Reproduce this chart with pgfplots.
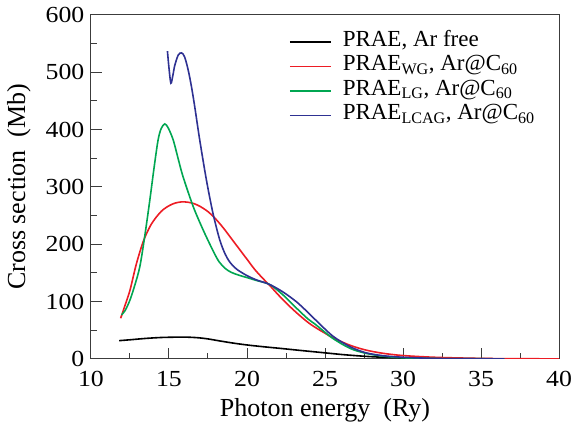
\documentclass[border=0pt]{standalone}
\usepackage{fontspec}
\setmainfont{Liberation Serif}
\newfontfamily\tickfont{Liberation Serif}[FakeStretch=1.12]
\usepackage{pgfplots}
\pgfplotsset{compat=1.18}
\definecolor{cRed}{RGB}{237,28,36}
\definecolor{cGreen}{RGB}{0,166,81}
\definecolor{cBlue}{RGB}{46,49,146}
\definecolor{cAxis}{RGB}{60,60,60}
\begin{document}
\begin{tikzpicture}
\begin{axis}[
 scale only axis, width=468bp, height=344bp,
 xmin=10, xmax=40, ymin=0, ymax=600,
 xtick={10,15,...,40}, ytick={0,100,...,600},
 minor xtick={12.5,17.5,...,37.5}, minor ytick={50,150,...,550},
 tick pos=left, tick align=inside,
 major tick length=11bp, minor tick length=6bp,
 axis line style={cAxis, line width=1bp},
 every tick/.style={cAxis, line width=1bp},
 /pgf/number format/assume math mode=true,
 ticklabel style={font=\tickfont\fontsize{23bp}{26bp}\selectfont, inner sep=1bp},
 xticklabel style={yshift=-11.5bp},
 yticklabel style={xshift=-5.5bp},
 label style={font=\fontsize{26bp}{29bp}\selectfont},
 xlabel={Photon energy~~(Ry)},
 ylabel={Cross section~~(Mb)},
 xlabel style={at={(axis description cs:0.5,-0.1686)}, anchor=base, inner sep=0pt},
 ylabel style={at={(axis description cs:-0.141,0.5)}, anchor=base, inner sep=0pt},
 legend style={draw=none, fill=none, at={(axis description cs:0.423,0.958)}, anchor=north west,
   inner sep=0pt, font=\fontsize{23bp}{25bp}\selectfont, row sep=0pt, column sep=9bp,
   nodes={inner ysep=1.5bp, text height=15bp, text depth=6.5bp}},
 legend cell align=left,
 legend image code/.code={\draw[#1] (0bp,0bp) -- (41bp,0bp);},
 every axis plot/.append style={line width=1.6bp, smooth},
]
\addplot[black] coordinates {
(11.8,32) (12.5,33.5) (13.56,36) (14.5,37.5) (15.27,38) (16.0,38.2) (16.8,37.2) (17.5,35) (18.25,31.5) (19.1,27.8) (19.96,24.6) (21,21.5) (22.1,18.6) (23.4,15) (25.08,10.5) (26.2,7.5) (27.4,5) (28.5,3.3) (30,2) (32,1) (35,0.4) (40,0.1)};
\addlegendentry{PRAE, Ar free}
\addplot[cRed] coordinates {
(11.9,71) (12.2,95) (12.5,120) (12.9,165) (13.35,205) (13.8,232) (14.2,248) (14.6,260) (15.05,268) (15.4,272) (15.8,274) (16.2,273.5) (16.6,271) (17.0,266) (17.5,257) (18.0,244) (18.5,228) (19.0,210) (19.5,192) (20.0,174) (20.5,156) (21.0,141) (21.5,127) (22.0,112) (22.5,98) (23.0,85) (23.5,73) (24.0,62) (24.5,53) (25.0,45) (25.5,37) (26.6,24) (27.6,15.7) (28.7,10) (30,6) (32,3) (34.1,1.5) (36,0.7) (40,0.2)};
\addlegendentry{PRAE\textsubscript{WG}, Ar@C\textsubscript{60}}
\addplot[cGreen] coordinates {
(11.96,77) (12.2,85) (12.5,103) (12.8,128) (13.13,161) (13.45,215) (13.77,277) (14.05,335) (14.3,382) (14.5,402) (14.73,410) (14.95,403) (15.27,382) (15.6,348) (15.9,318) (16.55,266) (17.19,225) (17.82,189) (18.2,170) (18.6,158) (19.0,151) (19.5,146) (20.0,142) (20.6,137) (21.45,130) (22.3,112) (23.16,89) (23.9,70) (24.4,60) (25.5,36) (26.6,18.6) (27.6,10) (28.7,5) (30,2) (32,0.8) (36.5,0.2)};
\addlegendentry{PRAE\textsubscript{LG}, Ar@C\textsubscript{60}}
\addplot[cBlue] coordinates {
(14.9,537) (14.99,510) (15.12,481) (15.25,495) (15.37,512) (15.59,530) (15.8,534) (16.0,527) (16.23,504) (16.44,475) (16.65,440) (16.97,382) (17.4,312) (17.82,254) (18.25,208) (18.6,183) (18.9,169) (19.32,157) (19.96,146) (20.6,138) (21.45,130) (22.3,117) (23.16,100) (23.8,84) (24.4,68) (25.5,40) (26.6,21.5) (27.6,11) (28.7,5.8) (30,3) (32,1) (34,0.4) (36.5,0.2)};
\addlegendentry{PRAE\textsubscript{LCAG}, Ar@C\textsubscript{60}}
\end{axis}
\pgfresetboundingbox
\path[use as bounding box] ([xshift=-91bp,yshift=-71bp]current axis.south west) rectangle ([xshift=14bp,yshift=15bp]current axis.north east);
\end{tikzpicture}
\end{document}
